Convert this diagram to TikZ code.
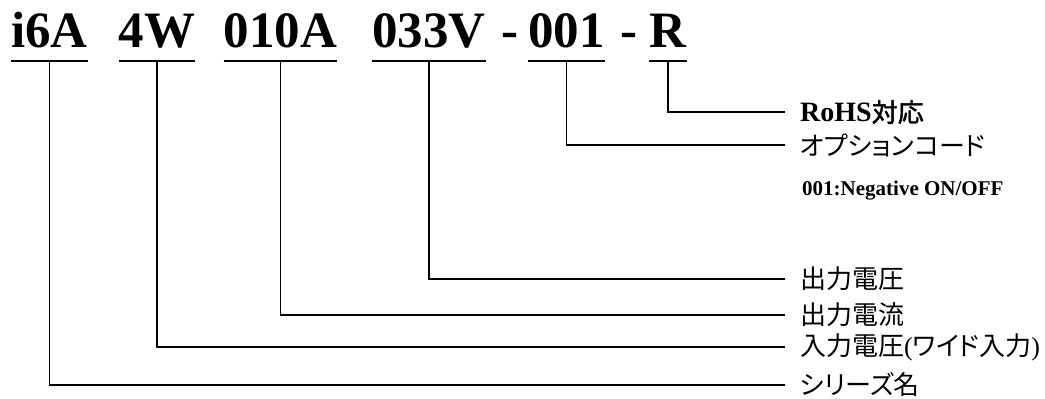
\documentclass[tikz,border=0pt]{standalone}
\usepackage{fontspec}
\setmainfont{Liberation Serif}
\newfontfamily\cjk[RawFeature=+palt]{Noto Sans CJK JP}
\newfontfamily\cjkb[FakeBold=1.5,RawFeature=+palt]{Noto Sans CJK JP}
\begin{document}
\begin{tikzpicture}[x=1pt,y=-1pt,
  code/.style={inner sep=0pt, anchor=base, font=\fontsize{51}{51}\selectfont\rmfamily\bfseries},
  uline/.style={line width=1.6pt},
  conn/.style={line width=1.6pt},
  lab/.style={anchor=west, inner ysep=0pt, inner xsep=15pt, font=\fontsize{26}{26}\selectfont\cjk},
  note/.style={anchor=base west, inner sep=0pt, font=\fontsize{21}{21}\selectfont\rmfamily\bfseries}]
\useasboundingbox (0,0) rectangle (1045,399);
\coordinate (uy) at (0,61);
% code segments
\node[code] (c1) at (49.5,47) {i6A};
\node[code] (c2) at (157,47) {4W};
\node[code] (c3) at (280.5,47) {010A};
\node[code] (c4) at (429,47) {033V};
\node[code] (d1) at (510,47) {-};
\node[code] (c5) at (566.5,47) {001};
\node[code] (d2) at (629,47) {-};
\node[code] (c6) at (668,47) {R};
% underlines
\foreach \n in {c1,c2,c3,c4,c5,c6}
  \draw[uline] (\n.west |- uy) -- (\n.east |- uy);
% labels
\node[lab] (l6) at (785,112) {{\fontsize{28}{28}\selectfont\rmfamily\bfseries RoHS}{\cjkb 対応}};
\node[lab] (l5) at (785,145) {オプションコード};
\node[note] (n5) at (802,195) {001:Negative ON/OFF};
\node[lab] (l4) at (785,279) {出力電圧};
\node[lab] (l3) at (785,315) {出力電流};
\node[lab] (l2) at (785,347) {入力電圧{\rmfamily(}ワイド入力{\rmfamily)}};
\node[lab] (l1) at (785,385) {シリーズ名};
% connectors
\draw[conn] (c6.center |- uy) |- (l6.west);
\draw[conn] (c5.center |- uy) |- (l5.west);
\draw[conn] (c4.center |- uy) |- (l4.west);
\draw[conn] (c3.center |- uy) |- (l3.west);
\draw[conn] (c2.center |- uy) |- (l2.west);
\draw[conn] (c1.center |- uy) |- (l1.west);
\end{tikzpicture}
\end{document}
